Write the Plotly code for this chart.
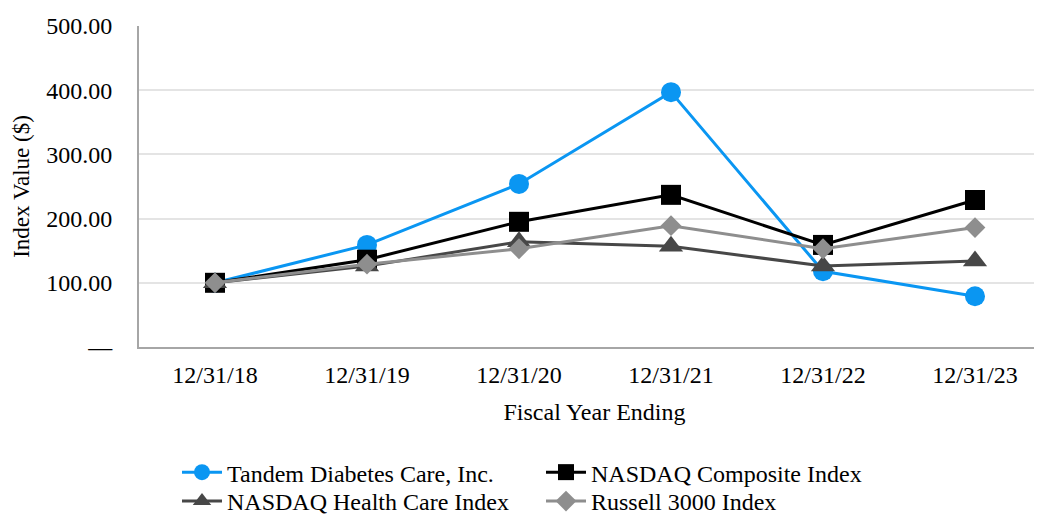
import plotly.graph_objects as go

years = ["12/31/18", "12/31/19", "12/31/20", "12/31/21", "12/31/22", "12/31/23"]
tandem = [100, 159, 254, 397, 118, 79]
nasdaq_comp = [100, 136, 195, 237, 159, 229]
nasdaq_hc = [100, 126, 164, 157, 126, 134]
russell = [100, 129, 153, 189, 153, 186]

y_tickvals = [0, 100, 200, 300, 400, 500]
y_ticktext = ["—", "100.00", "200.00", "300.00", "400.00", "500.00"]

FONT = "Liberation Serif, Times New Roman, DejaVu Serif, serif"

series = [
    ("Tandem Diabetes Care, Inc.", tandem, "#0A96F2", "circle", 20, 3, "legend"),
    ("NASDAQ Composite Index", nasdaq_comp, "#000000", "square", 20, 3, "legend"),
    ("NASDAQ Health Care Index", nasdaq_hc, "#474747", "triangle-up", 21, 3, "legend2"),
    ("Russell 3000 Index", russell, "#8E8E8E", "diamond", 16, 3, "legend2"),
]

fig = go.Figure()
for name, vals, color, sym, size, lw, leg in series:
    fig.add_trace(go.Scatter(
        x=years, y=vals, name=name, mode="lines+markers", legend=leg,
        line=dict(color=color, width=lw),
        marker=dict(symbol=sym, size=size, color=color, line=dict(width=0)),
    ))

legend_common = dict(
    orientation="h", xanchor="left", yanchor="top",
    font=dict(family=FONT, size=24, color="#000000"),
    entrywidth=309, entrywidthmode="pixels",
    traceorder="normal", itemwidth=40, bgcolor="rgba(0,0,0,0)",
)

PLOT_W = 1042 - 131
fig.update_layout(
    width=1042, height=507,
    margin=dict(l=131, r=0, t=18, b=168, autoexpand=False),
    paper_bgcolor="white", plot_bgcolor="white",
    font=dict(family=FONT, size=24, color="#000000"),
    showlegend=True,
    legend=dict(y=-0.321, x=38.0 / PLOT_W, **legend_common),
    legend2=dict(y=-0.411, x=38.0 / PLOT_W, **legend_common),
)

fig.update_xaxes(
    type="category", range=[-0.5, PLOT_W / 152.0 - 0.5], automargin=False,
    showgrid=False, showline=True, linecolor="#A6A6A6", linewidth=2,
    ticks="", tickfont=dict(family=FONT, size=24), ticklabelstandoff=5,
    title=dict(text="Fiscal Year Ending", font=dict(family=FONT, size=24), standoff=16),
)
fig.update_yaxes(
    range=[0, 500], tickvals=y_tickvals, ticktext=y_ticktext, automargin=False,
    showgrid=True, gridcolor="#E4E4E4", gridwidth=1.5,
    showline=True, linecolor="#A6A6A6", linewidth=2, zeroline=False,
    ticks="", tickfont=dict(family=FONT, size=24), ticklabelstandoff=20,
    title=dict(text="Index Value ($)", font=dict(family=FONT, size=23), standoff=10),
)

fig.write_html("out.html")
